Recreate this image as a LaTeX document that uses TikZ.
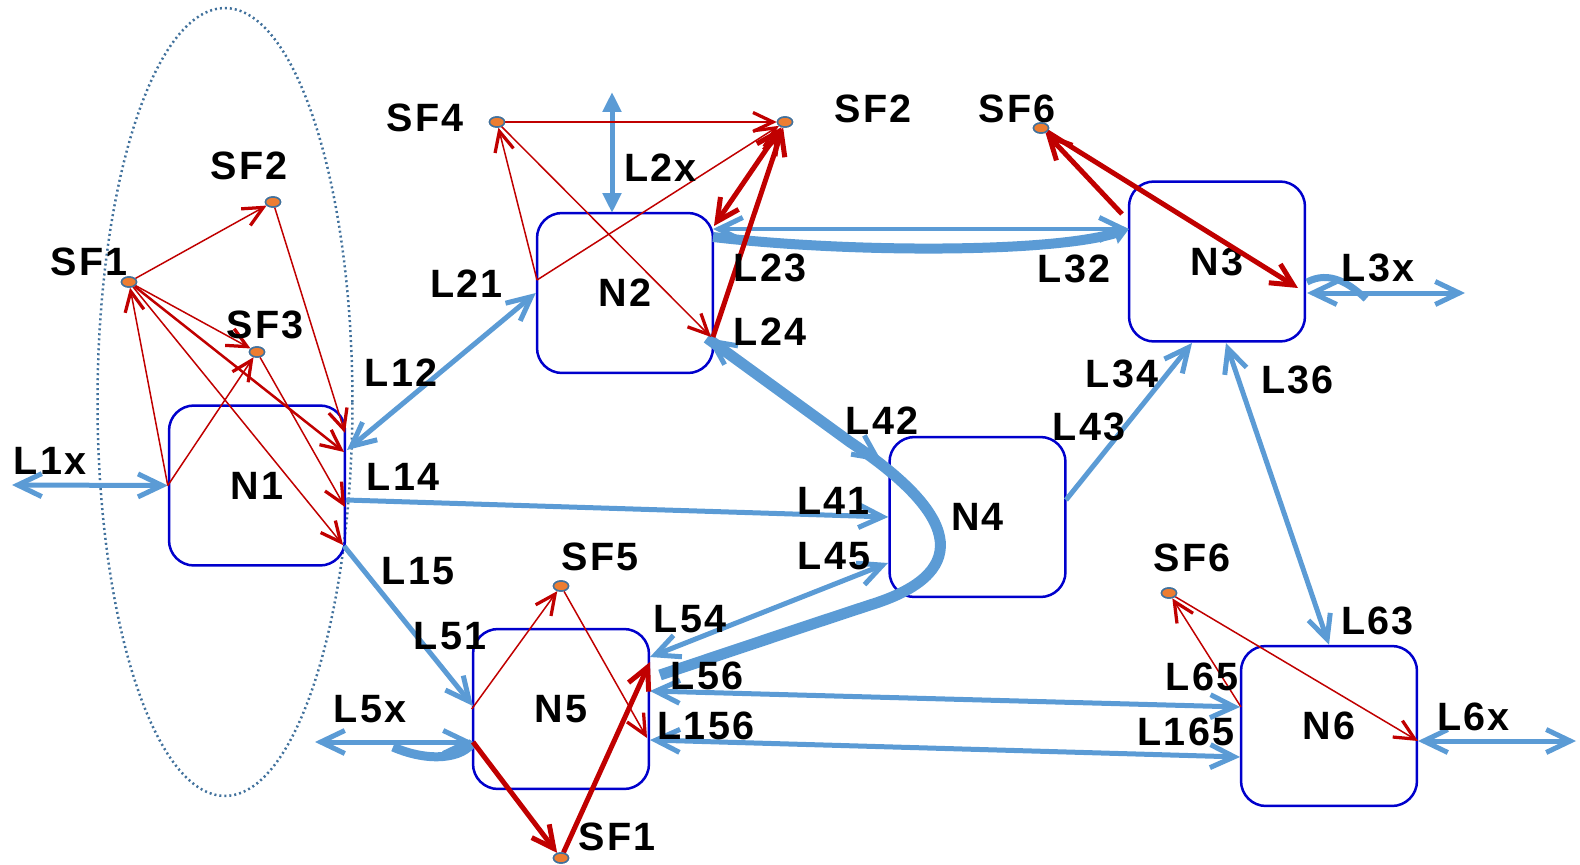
\documentclass[tikz,border=0pt]{standalone}
\usepackage{fontspec}
\setmainfont{Liberation Sans}
\newfontfamily\lblfam{Liberation Sans}[LetterSpace=6]
\newcommand\lblfont{\lblfam\bfseries\fontsize{22.5}{25}\selectfont}
\usetikzlibrary{arrows.meta,shapes.geometric}
\definecolor{lblue}{HTML}{5B9BD5}
\definecolor{dred}{HTML}{C00000}
\definecolor{boxblue}{HTML}{0000CC}
\definecolor{steel}{HTML}{41719C}
\definecolor{orng}{HTML}{ED7D31}
\begin{document}
\begin{tikzpicture}[x=0.02cm,y=-0.02cm,
  box/.style={draw=boxblue, line width=0.05cm, rounded corners=0.5cm, minimum width=3.52cm, minimum height=3.2cm, inner sep=0, font=\lblfont},
  dot/.style={ellipse, draw=steel, fill=orng, line width=0.03cm, minimum width=0.3cm, minimum height=0.2cm, inner sep=0},
  lbl/.style={font=\lblfont, inner sep=0},
  bl/.style={draw=lblue, line width=0.1cm, >={Straight Barb[length=0.48cm,width=0.46cm]}},
  blthick/.style={draw=lblue, line width=0.22cm},
  rt/.style={draw=dred, line width=0.03cm, >={Straight Barb[length=0.4cm,width=0.38cm,line width=0.065cm]}},
  rm/.style={draw=dred, line width=0.05cm, >={Straight Barb[length=0.4cm,width=0.38cm,line width=0.065cm]}},
  rk/.style={draw=dred, line width=0.1cm, >={Straight Barb[length=0.44cm,width=0.44cm]}},
  grp/.style={ellipse, draw=steel, line width=0.05cm, dash pattern=on 0.04cm off 0.06cm, minimum width=5.1cm, minimum height=15.76cm, inner sep=0}
]
\useasboundingbox (0,0) rectangle (1580,865);

% group ellipse
\node[grp] (G) at (225,402) {};

% boxes
\node[box] (N1) at (257,485.5) {N1};
\node[box] (N2) at (625,293) {N2};
\node[box] (N3) at (1217,261.5) {N3};
\node[box] (N4) at (977.5,517) {N4};
\node[box] (N5) at (561,709) {N5};
\node[box] (N6) at (1329,726) {N6};

% service-function dots
\node[dot] (SFa1) at (129,282) {};
\node[dot] (SFa2) at (273,202) {};
\node[dot] (SFa3) at (257,352) {};
\node[dot] (SFb4) at (497,122) {};
\node[dot] (SFb2) at (785,122) {};
\node[dot] (SFc6) at (1041,128) {};
\node[dot] (SFd5) at (561,586) {};
\node[dot] (SFd1) at (561,858) {};
\node[dot] (SFe6) at (1169,593) {};

% attachment points
\coordinate (L1xend) at (12,485);
\coordinate (n1a) at (347,450);
\coordinate (n1b) at (346,500);
\coordinate (n1c) at (344,546);
\coordinate (n5a) at (473,706);
\coordinate (L5xend) at (315,742);
\coordinate (n5b) at (473,742);
\coordinate (n5hk) at (393,747);
\coordinate (L2xend) at (612,92);
\coordinate (n2top) at (612,213);
\coordinate (n2c) at (713,229);
\coordinate (n2d) at (713,237);
\coordinate (n3a) at (1129,229);
\coordinate (n2e) at (707,338);
\coordinate (n4a) at (882,462);
\coordinate (n5c) at (660,675);
\coordinate (n4b) at (888,563);
\coordinate (n5d) at (650,657);
\coordinate (n5e) at (650,691);
\coordinate (n6a) at (1240,707);
\coordinate (n5f) at (650,740);
\coordinate (n6b) at (1240,757);
\coordinate (n4c) at (1066,500);
\coordinate (n3b) at (1192,343);
\coordinate (n3c) at (1226,343);
\coordinate (n3d) at (1307,293);
\coordinate (n3hk) at (1307,282);
\coordinate (L3xhk) at (1366,299);
\coordinate (L3xend) at (1465,293);
\coordinate (n6d) at (1418,741);
\coordinate (L6xend) at (1576,741);
% red attachment points
\coordinate (r1) at (345,433);
\coordinate (r2) at (344,452);
\coordinate (r3) at (345,507);
\coordinate (r4) at (343,545);
\coordinate (n2f) at (537,280);
\coordinate (n2g) at (711,337);
\coordinate (n2h) at (714,226);
\coordinate (n2i) at (713,337);
\coordinate (n3e) at (1122,214);
\coordinate (n3f) at (1298,288);
\coordinate (n5g) at (647,738);
\coordinate (n5h) at (650,662);
\coordinate (n6e) at (1241,707);

% blue links
\draw[bl,<->] (L1xend) -- (N1.west);
\draw[bl,<->] (n1a) -- (N2.west);
\draw[bl,->] (n1b) -- (N4.west);
\draw[bl,->] (n1c) -- (n5a);
\draw[bl,<->] (L5xend) -- (n5b);
\draw[draw=lblue, line width=0.18cm] (n5hk) .. controls (430,763) and (463,758) .. (n5b);
\draw[draw=lblue, line width=0.1cm, {Triangle[length=0.4cm,width=0.36cm]}-{Triangle[length=0.4cm,width=0.36cm]}] (L2xend) -- (n2top);
\draw[bl,<->] (n2c) -- (n3a);
\draw[draw=lblue, line width=0.2cm, -{Triangle[length=0.3cm,width=0.42cm]}] (n2d) .. controls (850,253) and (1050,253) .. (n3a);
\draw[bl,<->] (n2e) -- (n4a);
\draw[blthick] (n2e) -- (850,442) .. controls (967,520) and (967,575) .. (870,605) .. controls (800,628) and (720,655) .. (n5c);
\draw[bl,<->] (n4b) -- (n5d);
\draw[bl,<->] (n5e) -- (n6a);
\draw[bl,<->] (n5f) -- (n6b);
\draw[bl,->] (n4c) -- (n3b);
\draw[bl,<->] (n3c) -- (N6.north);
\draw[bl,<->] (n3d) -- (L3xend);
\draw[draw=lblue, line width=0.14cm] (n3hk) .. controls (1330,270) and (1350,284) .. (L3xhk);
\draw[bl,<->] (n6d) -- (L6xend);

% red links, left group
\draw[rt,->] (SFa1) -- (SFa2);
\draw[rt,->] (SFa2) -- (r1);
\draw[rt,->] (N1.west) -- (SFa1);
\draw[rt,->] (N1.west) -- (SFa3);
\draw[rt,->] (SFa1) -- (SFa3);
\draw[rm,->] (SFa1) -- (r2);
\draw[rt,->] (SFa3) -- (r3);
\draw[rt,->] (SFa1) -- (r4);
% top group
\draw[rt,->] (SFb4) -- (SFb2);
\draw[rt,->] (n2f) -- (SFb4);
\draw[rt,->] (n2f) -- (SFb2);
\draw[rt,->] (SFb4) -- (n2g);
\draw[rk,<->] (SFb2) -- (n2h);
\draw[rk,->] (n2i) -- (SFb2);
% N3 group
\draw[rk,->] (n3e) -- (SFc6);
\draw[rk,->] (SFc6) -- (n3f);
% N5 group
\draw[rt,->] (N5.west) -- (SFd5);
\draw[rt,->] (SFd5) -- (n5g);
\draw[rk,->] (n5b) -- (SFd1);
\draw[rk,->] (SFd1) -- (n5h);
% N6 group
\draw[rt,->] (n6e) -- (SFe6);
\draw[rt,->] (SFe6) -- (n6d);

% redraw dots on top
\foreach \d in {SFa1,SFa2,SFa3,SFb4,SFb2,SFc6,SFd5,SFd1,SFe6}
  \draw[steel, fill=orng, line width=0.03cm] (\d.center) ellipse [x radius=0.15cm, y radius=0.1cm];

% labels
\node[lbl] (tSFa1) at (89,262) {SF1};
\node[lbl] (tSFa2) at (249,166) {SF2};
\node[lbl] (tSFa3) at (265,325) {SF3};
\node[lbl] (tSFb4) at (425,117.5) {SF4};
\node[lbl] (tSFb2) at (873,109) {SF2};
\node[lbl] (tSFc6) at (1017,109) {SF6};
\node[lbl] (tSFd5) at (600,556.5) {SF5};
\node[lbl] (tSFd1) at (617,837) {SF1};
\node[lbl] (tSFe6) at (1192,558) {SF6};
\node[lbl] (tL1x) at (50,461) {L1x};
\node[lbl] (tL12) at (401,373) {L12};
\node[lbl] (tL14) at (403,477) {L14};
\node[lbl] (tL15) at (418,571.5) {L15};
\node[lbl] (tL51) at (450,636) {L51};
\node[lbl] (tL5x) at (370,709) {L5x};
\node[lbl] (tL21) at (466.5,284) {L21};
\node[lbl] (tL2x) at (660.5,167.5) {L2x};
\node[lbl] (tL23) at (770,267.5) {L23};
\node[lbl] (tL24) at (770,332) {L24};
\node[lbl] (tL32) at (1074,268.5) {L32};
\node[lbl] (tL3x) at (1378,268) {L3x};
\node[lbl] (tL34) at (1122,373.5) {L34};
\node[lbl] (tL36) at (1297.5,380) {L36};
\node[lbl] (tL42) at (882,421) {L42};
\node[lbl] (tL43) at (1089,427) {L43};
\node[lbl] (tL41) at (833.5,501) {L41};
\node[lbl] (tL45) at (834,556) {L45};
\node[lbl] (tL54) at (690,619) {L54};
\node[lbl] (tL56) at (707,676) {L56};
\node[lbl] (tL156) at (706,725.5) {L156};
\node[lbl] (tL65) at (1202,677) {L65};
\node[lbl] (tL165) at (1186,732) {L165};
\node[lbl] (tL63) at (1377.5,621) {L63};
\node[lbl] (tL6x) at (1473.5,716.5) {L6x};
\end{tikzpicture}
\end{document}
